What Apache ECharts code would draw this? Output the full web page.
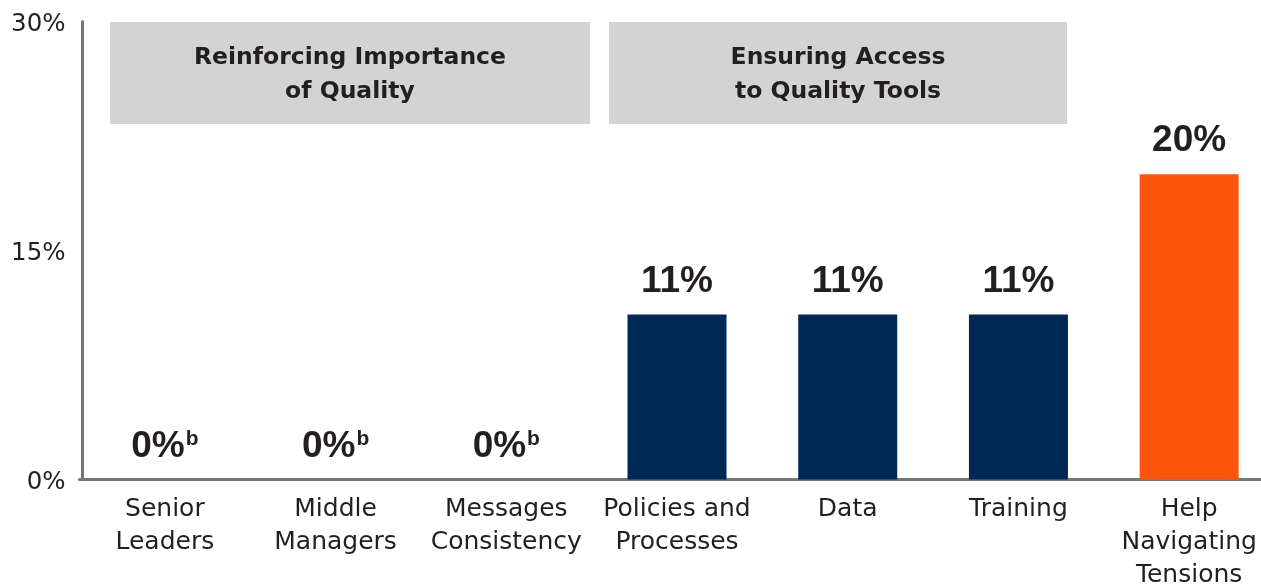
<!DOCTYPE html>
<html>
<head>
<meta charset="utf-8">
<script src="https://cdn.jsdelivr.net/npm/echarts@6/dist/echarts.min.js"></script>
<style>
  html, body { margin: 0; padding: 0; background: #ffffff; }
  #chart { width: 1261px; height: 585px; }
</style>
</head>
<body>
<div id="chart"></div>
<script>
// ---- data ----
const categories = ['Senior\nLeaders', 'Middle\nManagers', 'Messages\nConsistency', 'Policies and\nProcesses', 'Data', 'Training', 'Help\nNavigating\nTensions'];
const values = [0, 0, 0, 10.8, 10.8, 10.8, 20];
const valueLabels = ['0%', '0%', '0%', '11%', '11%', '11%', '20%'];
const footnotes = ['b', 'b', 'b', '', '', '', ''];
const yTicks = [0, 15, 30];
const groupTitles = ['Reinforcing Importance\nof Quality', 'Ensuring Access\nto Quality Tools'];

// ---- styles ----
const NAVY = '#002855';
const ORANGE = '#FE550D';
const TEXT = '#231F20';
const AXIS = '#6F7B7B';
const BOX = '#D3D3D3';
const FONT = '"DejaVu Sans", sans-serif';
const BOLD_FONT = '"Liberation Sans", Arial, sans-serif';

const chart = echarts.init(document.getElementById('chart'), null, { renderer: 'canvas' });

const boxes = [
  { x: 110, y: 22, w: 480, h: 102, text: groupTitles[0] },
  { x: 609, y: 22, w: 458, h: 102, text: groupTitles[1] }
];

chart.setOption({
  animation: false,
  backgroundColor: '#ffffff',
  grid: { left: 79.5, top: 21.5, width: 1195, bottom: 105.5, containLabel: false, outerBoundsMode: 'none' },
  xAxis: {
    type: 'category',
    data: categories,
    axisLine: { show: true, lineStyle: { color: AXIS, width: 3 } },
    axisTick: { show: false },
    axisLabel: {
      interval: 0,
      margin: 13,
      fontFamily: FONT,
      fontSize: 25,
      lineHeight: 33,
      color: TEXT,
      verticalAlign: 'top'
    },
    splitLine: { show: false }
  },
  yAxis: {
    type: 'value',
    min: yTicks[0],
    max: yTicks[yTicks.length - 1],
    interval: yTicks[1] - yTicks[0],
    offset: -3,
    axisLine: { show: true, lineStyle: { color: AXIS, width: 3 } },
    axisTick: { show: false },
    splitLine: { show: false },
    axisLabel: {
      margin: 17,
      color: TEXT,
      formatter: v => '{t|' + v + '%}',
      rich: {
        t: { fontFamily: FONT, fontSize: 24.5, color: TEXT, padding: [6, 0, 0, 0] }
      }
    }
  },
  graphic: boxes.map(b => ({
    type: 'group',
    z: 0,
    children: [
      { type: 'rect', shape: { x: b.x, y: b.y, width: b.w, height: b.h }, style: { fill: BOX } },
      {
        type: 'text',
        x: b.x + b.w / 2,
        y: b.y + b.h / 2 + 2,
        style: {
          text: b.text,
          fill: TEXT,
          font: 'bold 23.5px ' + FONT,
          lineHeight: 34,
          align: 'center',
          verticalAlign: 'middle'
        }
      }
    ]
  })),
  series: [{
    type: 'bar',
    data: values,
    barWidth: 99,
    z: 2,
    itemStyle: {
      color: p => (p.dataIndex === values.length - 1 ? ORANGE : NAVY)
    },
    label: {
      show: true,
      position: 'top',
      distance: 15,
      formatter: p => {
        const f = footnotes[p.dataIndex];
        return '{v|' + valueLabels[p.dataIndex] + '}' + (f ? '{s|' + f + '}' : '');
      },
      rich: {
        v: { fontFamily: BOLD_FONT, fontWeight: 'bold', fontSize: 37, lineHeight: 36, color: TEXT },
        s: { fontFamily: BOLD_FONT, fontWeight: 'bold', fontSize: 21, lineHeight: 20, color: TEXT, verticalAlign: 'top', padding: [0, 0, 0, 1] }
      }
    }
  }]
});
</script>
</body>
</html>
